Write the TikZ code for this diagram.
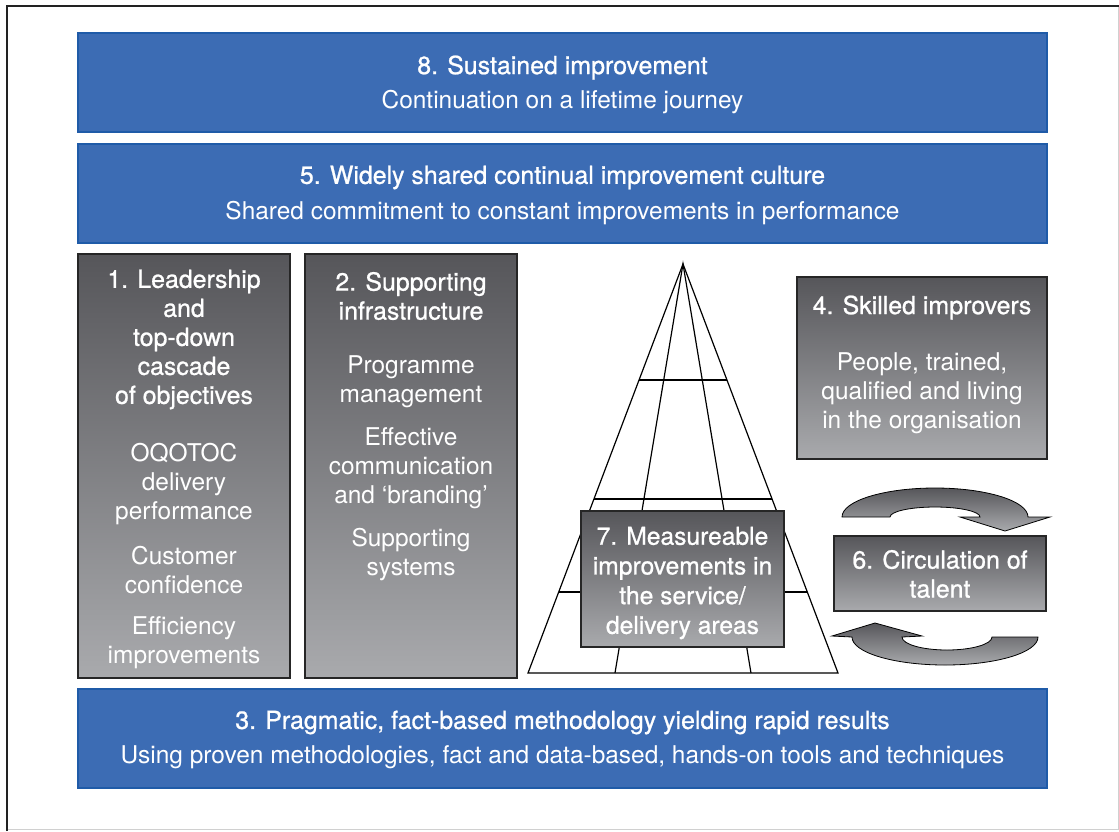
\documentclass[tikz,border=0pt]{standalone}
\usepackage{fontspec}
\setmainfont{TeX Gyre Heros}
\newfontfamily\medfont[FakeBold=0.9]{TeX Gyre Heros}
\usetikzlibrary{calc}
\definecolor{bluefill}{HTML}{3C6CB4}
\definecolor{blueedge}{HTML}{1F5BA8}
\definecolor{gtop}{HTML}{56565A}
\definecolor{gbot}{HTML}{A9AAAD}
\definecolor{frameedge}{HTML}{222222}
\definecolor{framelight}{HTML}{D0D0D0}
\tikzset{
  bluebox/.style={draw=blueedge, line width=1.5pt, fill=bluefill, inner sep=0pt},
  greybox/.style={draw=black!85, line width=1.5pt, top color=gtop, bottom color=gbot, inner sep=0pt},
  ttl/.style={text=white, font=\medfont\fontsize{24.9}{29}\selectfont, align=center, inner sep=0pt, yshift=-1.5pt},
  bdy/.style={text=white, font=\fontsize{24.45}{29}\selectfont, align=center, inner sep=0pt, yshift=-2pt},
  pyr/.style={draw=black, line width=1.2pt},
  cyc/.style={draw=black, line width=0.8pt, top color=gtop, bottom color=gbot}
}
\begin{document}
\begin{tikzpicture}[x=1pt,y=-1pt]
\useasboundingbox (0,0) rectangle (1119,831);
% frame
\draw[framelight, line width=1pt] (1118,6) -- (1118,829) -- (7,829);
\draw[frameedge, line width=2.5pt] (7,831) -- (7,6) -- (1119,6);

% blue boxes
\node[bluebox, minimum width=969pt, minimum height=99pt] (b8) at (562.5,82.5) {};
\node[bluebox, minimum width=969pt, minimum height=99pt] (b5) at (562.5,193.5) {};
\node[bluebox, minimum width=969pt, minimum height=99pt] (b3) at (562.5,738.5) {};
\node[ttl] (t8) at (562.5,66) {8. Sustained improvement};
\node[bdy] (s8) at (562.5,100) {Continuation on a lifetime journey};
\node[ttl] (t5) at (562.5,176) {5. Widely shared continual improvement culture};
\node[bdy] (s5) at (562.5,211) {Shared commitment to constant improvements in performance};
\node[ttl] (t3) at (562.5,721) {3. Pragmatic, fact-based methodology yielding rapid results};
\node[bdy] (s3) at (562.5,755) {Using proven methodologies, fact and data-based, hands-on tools and techniques};

% grey boxes 1 and 2
\node[greybox, minimum width=212pt, minimum height=424pt] (b1) at (184,466) {};
\node[greybox, minimum width=212pt, minimum height=424pt] (b2) at (411,466) {};
\node[ttl] (t1) at (184,338) {1. Leadership\\and\\top-down\\cascade\\of objectives};
\node[bdy] (p1a) at (184,482.5) {OQOTOC\\delivery\\performance};
\node[bdy] (p1b) at (184,568.5) {Customer\\confidence};
\node[bdy] (p1c) at (184,641) {Efficiency\\improvements};
\node[ttl] (t2) at (411,294.5) {2. Supporting\\infrastructure};
\node[bdy] (p2a) at (411,380) {Programme\\management};
\node[bdy] (p2b) at (411,466) {Effective\\communication\\and ‘branding’};
\node[bdy] (p2c) at (411,552.5) {Supporting\\systems};

% pyramid
\coordinate (A) at (683,264);
\coordinate (BL) at (528,673);
\coordinate (BR) at (838,673);
\coordinate (IL) at (615,673);
\coordinate (IR) at (751,673);
\draw[pyr] (BL) -- (A) -- (BR) -- cycle;
\draw[pyr] (IL) -- (A) -- (IR);
\foreach \t in {0.2836,0.5746,0.8020}
  \draw[pyr] ($(A)!\t!(BL)$) -- ($(A)!\t!(BR)$);

% box 4
\node[greybox, minimum width=250pt, minimum height=182pt] (b4) at (922,368) {};
\node[ttl] (t4) at (922,306) {4. Skilled improvers};
\node[bdy] (p4) at (922,391) {People, trained,\\qualified and living\\in the organisation};

% box 7
\node[greybox, minimum width=203pt, minimum height=136pt] (b7) at (682.5,579) {};
\node[ttl, font=\medfont\fontsize{24.6}{29.7}\selectfont] (t7) at (682.5,581.5) {7. Measureable\\improvements in\\the service/\\delivery areas};

% box 6
\node[greybox, minimum width=212pt, minimum height=75pt] (b6) at (940,573.5) {};
\node[ttl] (t6) at (940,572.5) {6. Circulation of\\talent};

% circulation arrows
\path[cyc] (842,517) arc[start angle=180, end angle=360, x radius=93, y radius=29]
  -- (1050,517) -- (1005,531) -- (960,517) -- (980,517)
  arc[start angle=0, end angle=-180, x radius=45, y radius=10] -- cycle;
\path[cyc] (1038,637) arc[start angle=0, end angle=180, x radius=93, y radius=28]
  -- (832,636) -- (875,623) -- (922,636) -- (902,637)
  arc[start angle=180, end angle=0, x radius=45, y radius=13] -- cycle;
\end{tikzpicture}
\end{document}
